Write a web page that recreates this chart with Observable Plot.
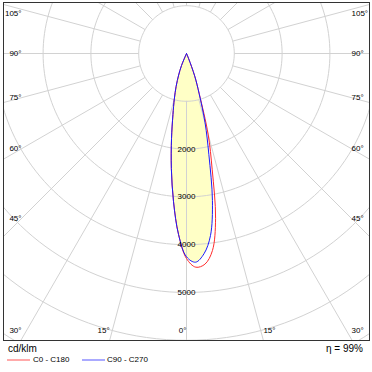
<!DOCTYPE html>
<html><head><meta charset="utf-8">
<script src="https://cdn.jsdelivr.net/npm/d3@7"></script>
<script src="https://cdn.jsdelivr.net/npm/@observablehq/plot@0.6"></script>
<style>
body{margin:0;background:#fff;font-family:"Liberation Sans",Arial,sans-serif;}
#wrap{position:relative;width:372px;height:372px;overflow:hidden;}
#wrap svg{position:absolute;left:0;top:0;}
.t{position:absolute;white-space:nowrap;color:#000;line-height:1;}
.sw{position:absolute;height:2px;}
</style></head><body><div id="wrap"></div>
<script>
// ---- data (gamma angle from nadir, negative = left half; values in cd/klm) ----
const angles   = [-25,-22.5,-20,-17.5,-15,-12.5,-10,-7.5,-5,-2.5,0,2.5,5,7.5,10,12.5,15,17.5,20,22.5,25];
const c0c180   = [0,275,480,720,985,1310,1805,2427,3113,3794,4290,4475,4424,4158,3502,2480,1746,900,510,120,0];
const c90c270  = [0,275,480,720,985,1310,1805,2427,3113,3794,4253,4370,4205,3843,3123,2160,1500,875,497,120,0];
const ringValues = [1000,2000,3000,4000,5000,6000,7000,8000];
const ringLabels = [2000,3000,4000,5000];
const angleTicks = [0,15,30,45,60,75,90,105];
const unitLabel = "cd/klm";
const seriesNames = ["C0 - C180","C90 - C270"];
const seriesColors = ["#ff2a2a","#1a1aff"];
const efficiency = "η = 99%";

// ---- layout ----
const cx = 186, cy = 53, pxPer1000 = 47.8;
const L = 3, R = 369, T = 2, B = 340;
const K = 1000 / pxPer1000;
const X = px => (px - cx) * K, Y = py => (py - cy) * K;
const rad = d => d * Math.PI / 180;
const pol = (a, r) => [r * Math.sin(rad(a)), r * Math.cos(rad(a))];

const toPts = vals => angles.map((a, i) => { const [x, y] = pol(a, vals[i]); return {x, y}; });
const redPts = toPts(c0c180), bluePts = toPts(c90c270);

const circles = ringValues.flatMap(r => d3.range(0, 361, 2).map(a => { const [x, y] = pol(a, r); return {r, x, y}; }));
const radials = d3.range(0, 360, 15).map(a => { const [x1, y1] = pol(a, 1000); const [x2, y2] = pol(a, 9000); return {x1, y1, x2, y2}; });

function tickPos(t, side) {
  const s = Math.sin(rad(t)), c = Math.cos(rad(t));
  let px, py;
  const yAt = 165 * c / s;
  if (s > 0 && yAt <= (B - cy)) { px = 165; py = yAt; }
  else { py = B - cy; px = (B - cy) * s / c; }
  py = Math.max(13 - cy, Math.min(330 - cy, py));
  return {x: side * px * K, y: py * K, text: t + "\u00b0"};
}
const leftTicks = angleTicks.map(t => tickPos(t, -1));
const rightTicks = angleTicks.filter(t => t > 0).map(t => tickPos(t, 1));

const grid = "#d2d2d2";
const font = "'Liberation Sans', Arial, sans-serif";
const chart = Plot.plot({
  width: 372, height: 341,
  marginLeft: L, marginRight: 372 - R, marginTop: T, marginBottom: 341 - B,
  x: {domain: [X(L), X(R)], range: [L, R], axis: null},
  y: {domain: [Y(T), Y(B)], range: [T, B], axis: null},
  style: {fontFamily: font, background: "white", overflow: "visible"},
  marks: [
    Plot.line(bluePts, {x: "x", y: "y", fill: "#ffffc6", stroke: "none", curve: "catmull-rom"}),
    Plot.line(circles, {x: "x", y: "y", z: "r", stroke: grid, strokeWidth: 1, clip: true}),
    Plot.link(radials, {x1: "x1", y1: "y1", x2: "x2", y2: "y2", stroke: grid, strokeWidth: 1, clip: true}),
    Plot.line(redPts, {x: "x", y: "y", stroke: seriesColors[0], strokeWidth: 1, curve: "catmull-rom"}),
    Plot.line(bluePts, {x: "x", y: "y", stroke: seriesColors[1], strokeWidth: 1, curve: "catmull-rom"}),
    Plot.text(ringLabels, {x: () => 0, y: d => d, text: d => String(d), fontSize: 8, fill: "#000"}),
    Plot.text(leftTicks, {x: "x", y: "y", text: "text", textAnchor: "end", fontSize: 8, fill: "#000"}),
    Plot.text(rightTicks, {x: "x", y: "y", text: "text", textAnchor: "start", fontSize: 8, fill: "#000"}),
    Plot.frame({stroke: "#333", strokeWidth: 1})
  ]
});
const wrap = document.getElementById("wrap");
wrap.appendChild(chart);

function addText(txt, css) { const d = document.createElement("div"); d.className = "t"; d.textContent = txt; Object.assign(d.style, css); wrap.appendChild(d); }
function addSwatch(color, left) { const d = document.createElement("div"); d.className = "sw"; Object.assign(d.style, {left: left + "px", top: "359px", width: "23px", background: color}); wrap.appendChild(d); }
addText(unitLabel, {left: "8px", top: "344px", fontSize: "10px"});
addSwatch("#ffaaaa", 7);
addText(seriesNames[0], {left: "33px", top: "356px", fontSize: "8px"});
addSwatch("#aaaaff", 82);
addText(seriesNames[1], {left: "107px", top: "356px", fontSize: "8px"});
addText(efficiency, {right: "9px", top: "344px", fontSize: "10px"});
</script></body></html>
